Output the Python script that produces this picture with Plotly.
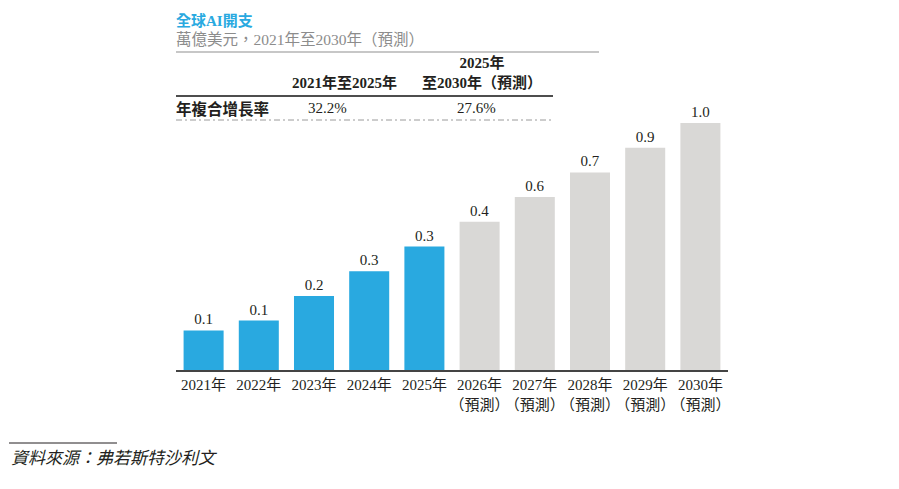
import plotly.graph_objects as go

years = ["2021年", "2022年", "2023年", "2024年", "2025年",
         "2026年", "2027年", "2028年", "2029年", "2030年"]
tick_labels = ["2021年", "2022年", "2023年", "2024年", "2025年",
               "2026年<br>（預測）", "2027年<br>（預測）", "2028年<br>（預測）",
               "2029年<br>（預測）", "2030年<br>（預測）"]
spend = [0.16, 0.2, 0.3, 0.4, 0.5, 0.6, 0.7, 0.8, 0.9, 1.0]
value_labels = ["0.1", "0.1", "0.2", "0.3", "0.3", "0.4", "0.6", "0.7", "0.9", "1.0"]
forecast = [False, False, False, False, False, True, True, True, True, True]

cagr_periods = ["2021年至2025年", "2025年<br>至2030年（預測）"]
cagr_values = ["32.2%", "27.6%"]

BLUE = "#29a9e0"
GREY_BAR = "#d9d8d6"
INK = "#231f20"
FONT = "Liberation Serif, Noto Sans CJK TC, serif"

# page geometry in pixels; the page body adds an 8px offset
W, H = 899, 489
OFF = 8
L, T = 168, 92
PW, PH = 552, 270
R, B = W - L - PW, H - T - PH


def px(x):
    return (x - OFF - L) / PW


def py(y):
    return (T + PH + OFF - y) / PH


colors = [GREY_BAR if f else BLUE for f in forecast]

fig = go.Figure(go.Bar(
    x=years, y=spend, marker_color=colors, marker_line_width=0,
    text=value_labels, textposition="outside", cliponaxis=False,
    textfont=dict(size=15, color=INK, family=FONT),
))

annotations = [
    dict(x=px(174), y=py(20), text="<b>全球AI開支</b>", xanchor="left",
         font=dict(size=15, color=BLUE)),
    dict(x=px(174), y=py(40), text="萬億美元，2021年至2030年（預測）", xanchor="left",
         font=dict(size=15.5, color="#8c8c8c")),
    dict(x=px(344), y=py(82), text="<b>" + cagr_periods[0] + "</b>",
         font=dict(size=15, color=INK)),
    dict(x=px(482), y=py(73), text="<b>" + cagr_periods[1] + "</b>",
         font=dict(size=15, color=INK)),
    dict(x=px(174), y=py(108), text="<b>年複合增長率</b>", xanchor="left",
         font=dict(size=15.5, color=INK, family="Noto Sans CJK TC")),
    dict(x=px(327), y=py(108), text=cagr_values[0], font=dict(size=15, color=INK)),
    dict(x=px(476), y=py(108), text=cagr_values[1], font=dict(size=15, color=INK)),
    dict(x=px(9), y=py(459), text="<i>資料來源：弗若斯特沙利文</i>", xanchor="left",
         font=dict(size=17, color=INK)),
]
for a in annotations:
    a.update(xref="paper", yref="paper", showarrow=False, yanchor="middle")
    a.setdefault("xanchor", "center")

shapes = [
    dict(x0=px(176), x1=px(599), y0=py(52), y1=py(52), line=dict(color="#8f8f8f", width=1)),
    dict(x0=px(176), x1=px(553), y0=py(96), y1=py(96), line=dict(color="#4d4d4d", width=2)),
    dict(x0=px(176), x1=px(553), y0=py(120), y1=py(120),
         line=dict(color="#9a9a9a", width=1, dash="6px,3px,2px,3px")),
    dict(x0=px(9), x1=px(117), y0=py(443), y1=py(443), line=dict(color=INK, width=1)),
]
for s in shapes:
    s.update(type="line", xref="paper", yref="paper")

fig.update_layout(
    width=W, height=H,
    margin=dict(l=L, r=R, t=T, b=B),
    plot_bgcolor="white", paper_bgcolor="white",
    font=dict(family=FONT, color=INK, size=15),
    bargap=0.275,
    showlegend=False,
    annotations=annotations,
    shapes=shapes,
    xaxis=dict(tickvals=years, ticktext=tick_labels, tickangle=0, showline=True,
               linecolor="#444444", linewidth=2, ticks="",
               tickfont=dict(size=15, color=INK)),
    yaxis=dict(visible=False, range=[0, 270 / 247]),
)

fig.write_html("out.html")
